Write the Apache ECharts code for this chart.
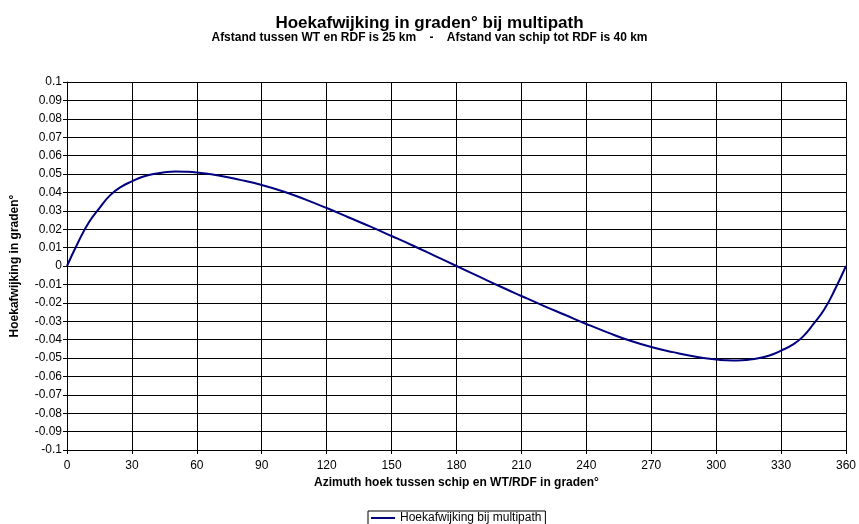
<!DOCTYPE html>
<html>
<head>
<meta charset="utf-8">
<script src="https://cdn.jsdelivr.net/npm/echarts@6/dist/echarts.min.js"></script>
<style>html,body{margin:0;padding:0;background:#fff;}#c{width:859px;height:524px;}</style>
</head>
<body>
<div id="c"></div>
<script>
const azimuth = [0,5,10,15,20,25,30,35,40,45,50,55,60,70,80,90,100,110,120,130,140,150,160,170,180,
  190,200,210,220,230,240,250,260,270,280,290,300,305,310,315,320,325,330,335,340,345,350,355,360];
const deviation = [0,0.0125,0.0235,0.0315,0.0385,0.0430,0.0460,0.0485,0.0500,0.0509,0.0513,0.0512,0.0508,0.0492,0.0468,0.0440,0.0405,0.0362,0.0315,0.0265,0.0215,0.0163,0.0110,0.0055,0,
  -0.0055,-0.0110,-0.0163,-0.0215,-0.0265,-0.0315,-0.0362,-0.0405,-0.0440,-0.0468,-0.0492,-0.0508,-0.0512,-0.0513,-0.0509,-0.0500,-0.0485,-0.0460,-0.0430,-0.0385,-0.0315,-0.0235,-0.0125,0];
const titleText = 'Hoekafwijking in graden° bij multipath';
const subtitleText = 'Afstand tussen WT en RDF is 25 km    -    Afstand van schip tot RDF is 40 km';
const xName = 'Azimuth hoek tussen schip en WT/RDF in graden°';
const yName = 'Hoekafwijking in graden°';
const seriesName = 'Hoekafwijking bij multipath';

const font = 'Liberation Sans, Arial, sans-serif';
const chart = echarts.init(document.getElementById('c'), null, {renderer:'canvas'});
chart.setOption({
  backgroundColor:'#fff',
  animation:false,
  title:{
    text:titleText, subtext:subtitleText, left:'center', top:10, itemGap:0,
    textStyle:{fontFamily:font, fontSize:17, fontWeight:'bold', color:'#000'},
    subtextStyle:{fontFamily:font, fontSize:12, fontWeight:'bold', color:'#000'}
  },
  grid:{left:67, right:10, top:82, bottom:74, containLabel:false},
  legend:{
    data:[seriesName], left:368, bottom:-1, itemWidth:24, itemHeight:10, padding:[1,4,1,3],
    borderColor:'#000', borderWidth:1, borderRadius:0,
    textStyle:{fontFamily:font, fontSize:12, color:'#000'}, icon:'path://M0,4 L24,4 L24,6 L0,6 Z', itemGap:2
  },
  xAxis:{
    type:'value', min:0, max:360, interval:30,
    name:xName, nameLocation:'middle', nameGap:25,
    nameTextStyle:{fontFamily:font, fontSize:12, fontWeight:'bold', color:'#000'},
    axisLine:{show:true, onZero:false, lineStyle:{color:'#000', width:1}},
    axisTick:{show:true, inside:false, length:4, lineStyle:{color:'#000'}},
    axisLabel:{fontFamily:font, fontSize:12, color:'#000', margin:10},
    splitLine:{show:true, lineStyle:{color:'#000', width:1}}
  },
  yAxis:{
    type:'value', min:-0.1, max:0.1, interval:0.01,
    name:yName, nameLocation:'middle', nameGap:46, nameRotate:90,
    nameTextStyle:{fontFamily:font, fontSize:12, fontWeight:'bold', color:'#000'},
    axisLine:{show:true, onZero:false, lineStyle:{color:'#000', width:1}},
    axisTick:{show:true, inside:false, length:4, lineStyle:{color:'#000'}},
    axisLabel:{fontFamily:font, fontSize:12, color:'#000', margin:5,
      formatter:v => String(+v.toFixed(2))},
    splitLine:{show:true, lineStyle:{color:'#000', width:1}}
  },
  series:[{
    name:seriesName, type:'line', smooth:true, showSymbol:false, symbol:'none',
    data:azimuth.map((a,i)=>[a, deviation[i]]),
    lineStyle:{color:'#000080', width:2}, itemStyle:{color:'#000080'}
  }]
});
</script>
</body>
</html>
